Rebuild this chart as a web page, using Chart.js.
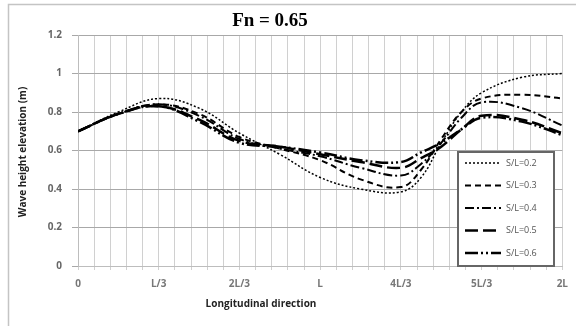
<!DOCTYPE html>
<html>
<head>
<meta charset="utf-8">
<script src="https://cdn.jsdelivr.net/npm/chart.js@4/dist/chart.umd.min.js"></script>
<style>
  html, body { margin: 0; padding: 0; background: #fff; }
  canvas { display: block; }
</style>
</head>
<body>
<canvas id="myChart" width="576" height="326"></canvas>
<script>
// stations along the hull, in grid steps (30 steps = 2L)
const stations = [0, 2.5, 5, 7.5, 10, 12.5, 15, 17.5, 20, 21.25, 22.5, 23.75, 25, 27.5, 30];
const tickLabels = ['0', 'L/3', '2L/3', 'L', '4L/3', '5L/3', '2L'];
const seriesNames = ['S/L=0.2', 'S/L=0.3', 'S/L=0.4', 'S/L=0.5', 'S/L=0.6'];

const sl02 = [0.70, 0.80, 0.87, 0.82, 0.69, 0.58, 0.46, 0.40, 0.385, 0.46, 0.64, 0.80, 0.90, 0.98, 1.00];
const sl03 = [0.70, 0.79, 0.84, 0.79, 0.67, 0.61, 0.55, 0.45, 0.41, 0.50, 0.66, 0.80, 0.87, 0.89, 0.87];
const sl04 = [0.70, 0.79, 0.84, 0.78, 0.66, 0.61, 0.57, 0.51, 0.47, 0.53, 0.64, 0.77, 0.85, 0.82, 0.73];
const sl05 = [0.70, 0.79, 0.83, 0.76, 0.65, 0.62, 0.58, 0.54, 0.51, 0.56, 0.62, 0.71, 0.78, 0.76, 0.69];
const sl06 = [0.70, 0.79, 0.83, 0.75, 0.64, 0.62, 0.59, 0.55, 0.54, 0.59, 0.64, 0.71, 0.77, 0.75, 0.68];

const allSeries = [sl02, sl03, sl04, sl05, sl06];
const dashes = [[2, 2], [6, 4], [9, 3, 2, 3], [13, 5], [13, 3, 2, 3, 2, 3]];
const widths = [1.5, 2, 2, 2.5, 2.5];

const toPoints = arr => arr.map((v, i) => ({ x: stations[i], y: v }));

// frame, title, axis titles and the boxed legend
const decorations = {
  id: 'decorations',
  beforeDraw(chart) {
    const ctx = chart.ctx;
    ctx.save();
    ctx.fillStyle = '#fff';
    ctx.fillRect(0, 0, chart.width, chart.height);
    ctx.strokeStyle = '#c4c4c4';
    ctx.lineWidth = 1.5;
    ctx.strokeRect(8.5, 4.5, 570, 330);
    ctx.restore();
  },
  afterDraw(chart) {
    const ctx = chart.ctx;
    ctx.save();
    ctx.fillStyle = '#000';
    ctx.textAlign = 'center';
    ctx.textBaseline = 'middle';
    ctx.font = 'bold 19px "Liberation Serif"';
    ctx.fillText('Fn = 0.65', 270, 21);

    ctx.font = 'bold 10px "Open Sans"';
    ctx.fillStyle = '#222';
    ctx.fillText('Longitudinal direction', 261, 304);
    ctx.translate(23, 152);
    ctx.rotate(-Math.PI / 2);
    ctx.fillText('Wave height elevation (m)', 0, 0);
    ctx.restore();

    // legend box
    ctx.save();
    const bx = 458, by = 152, bw = 96, bh = 114;
    ctx.fillStyle = '#fff';
    ctx.fillRect(bx, by, bw, bh);
    ctx.strokeStyle = '#666';
    ctx.lineWidth = 2;
    ctx.strokeRect(bx, by, bw, bh);
    chart.data.datasets.forEach((ds, i) => {
      const y = by + 11 + i * 22.5;
      ctx.strokeStyle = '#000';
      ctx.lineWidth = ds.borderWidth;
      ctx.setLineDash(ds.borderDash);
      ctx.beginPath();
      ctx.moveTo(bx + 7, y);
      ctx.lineTo(bx + 43, y);
      ctx.stroke();
      ctx.setLineDash([]);
      ctx.fillStyle = '#555';
      ctx.font = '9px "Open Sans"';
      ctx.textAlign = 'left';
      ctx.textBaseline = 'middle';
      ctx.fillText(ds.label, bx + 48, y);
    });
    ctx.restore();
  }
};

new Chart(document.getElementById('myChart'), {
  type: 'line',
  data: {
    datasets: allSeries.map((arr, i) => ({
      label: seriesNames[i],
      data: toPoints(arr),
      borderColor: '#000',
      borderWidth: widths[i],
      borderDash: dashes[i],
      pointRadius: 0,
      tension: 0.4,
      fill: false
    }))
  },
  options: {
    responsive: false,
    animation: false,
    layout: { padding: { top: 35, right: 9, left: 0, bottom: 0 } },
    plugins: {
      legend: { display: false },
      tooltip: { enabled: false }
    },
    scales: {
      x: {
        type: 'linear',
        min: 0,
        max: 30,
        afterFit(scale) { scale.height = 60; },
        ticks: {
          stepSize: 1,
          maxTicksLimit: 40,
          autoSkip: false,
          maxRotation: 0,
          padding: 8,
          color: '#777',
          font: { family: 'Open Sans', size: 10, weight: 'bold' },
          callback: v => (v % 5 === 0 ? tickLabels[v / 5] : '')
        },
        grid: { color: '#d0d0d0', lineWidth: 1, tickLength: 4 },
        border: { color: '#bdbdbd' }
      },
      y: {
        min: 0,
        max: 1.2,
        afterFit(scale) { scale.width = 78; },
        ticks: {
          stepSize: 0.2,
          padding: 10,
          color: '#666',
          font: { family: 'Open Sans', size: 10, weight: 'bold' },
          callback: v => (Math.round(v * 10) / 10).toString()
        },
        grid: { color: '#a8a8a8', lineWidth: 1, tickLength: 6 },
        border: { color: '#bdbdbd' }
      }
    }
  },
  plugins: [decorations]
});
</script>
</body>
</html>
